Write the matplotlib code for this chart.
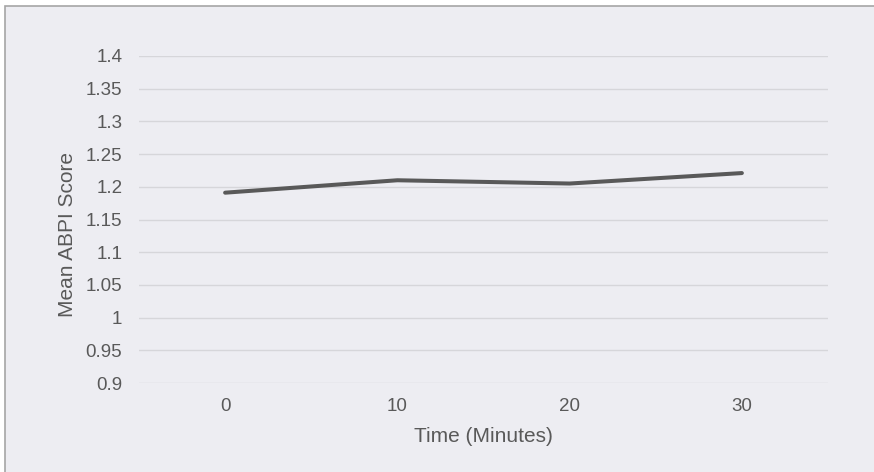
import matplotlib
matplotlib.use("Agg")
import matplotlib.pyplot as plt
from matplotlib.patches import Rectangle

# data
times = ["0", "10", "20", "30"]
mean_abpi = [1.191, 1.210, 1.205, 1.221]
y_ticks = [0.9, 0.95, 1.0, 1.05, 1.1, 1.15, 1.2, 1.25, 1.3, 1.35, 1.4]
y_labels = ["0.9", "0.95", "1", "1.05", "1.1", "1.15", "1.2", "1.25", "1.3", "1.35", "1.4"]

plt.rcParams['font.family'] = ['Liberation Sans', 'DejaVu Sans']

W, H = 874, 472
fig = plt.figure(figsize=(W / 100, H / 100), dpi=100)
fig.patch.set_facecolor("white")

# chart area frame (drawn below the axes)
bg = "#EDEDF2"
fig.patches.append(Rectangle((5 / W, -0.01), 1.0, 1 - 6 / H + 0.01, transform=fig.transFigure,
                             facecolor=bg, edgecolor="#A6A6A6", linewidth=1.2, zorder=-10))

ax = fig.add_axes([139 / W, 1 - 383 / H, (828 - 139) / W, (383 - 56) / H])
ax.patch.set_alpha(0)

x = list(range(len(times)))
ax.plot(x, mean_abpi, color="#595959", linewidth=2.9, solid_capstyle="round", zorder=3)

ax.set_xlim(-0.5, len(times) - 0.5)
ax.set_ylim(0.9, 1.4)
ax.set_yticks(y_ticks)
ax.set_yticklabels(y_labels)
ax.set_xticks(x)
ax.set_xticklabels(times)

ax.grid(axis="y", color="#D6D6DA", linewidth=1.0)
ax.set_axisbelow(True)
for s in ax.spines.values():
    s.set_visible(False)
ax.tick_params(axis="both", length=0, colors="#595959", labelsize=13.5)
ax.tick_params(axis="y", pad=12)
ax.tick_params(axis="x", pad=11)

ax.set_xlabel("Time (Minutes)", fontsize=15, color="#595959")
ax.set_ylabel("Mean ABPI Score", fontsize=15, color="#595959")
ax.xaxis.set_label_coords(0.5, -0.134)
ax.yaxis.set_label_coords(-0.09, 0.454)

fig.savefig("out.png", dpi=100, facecolor="white")
